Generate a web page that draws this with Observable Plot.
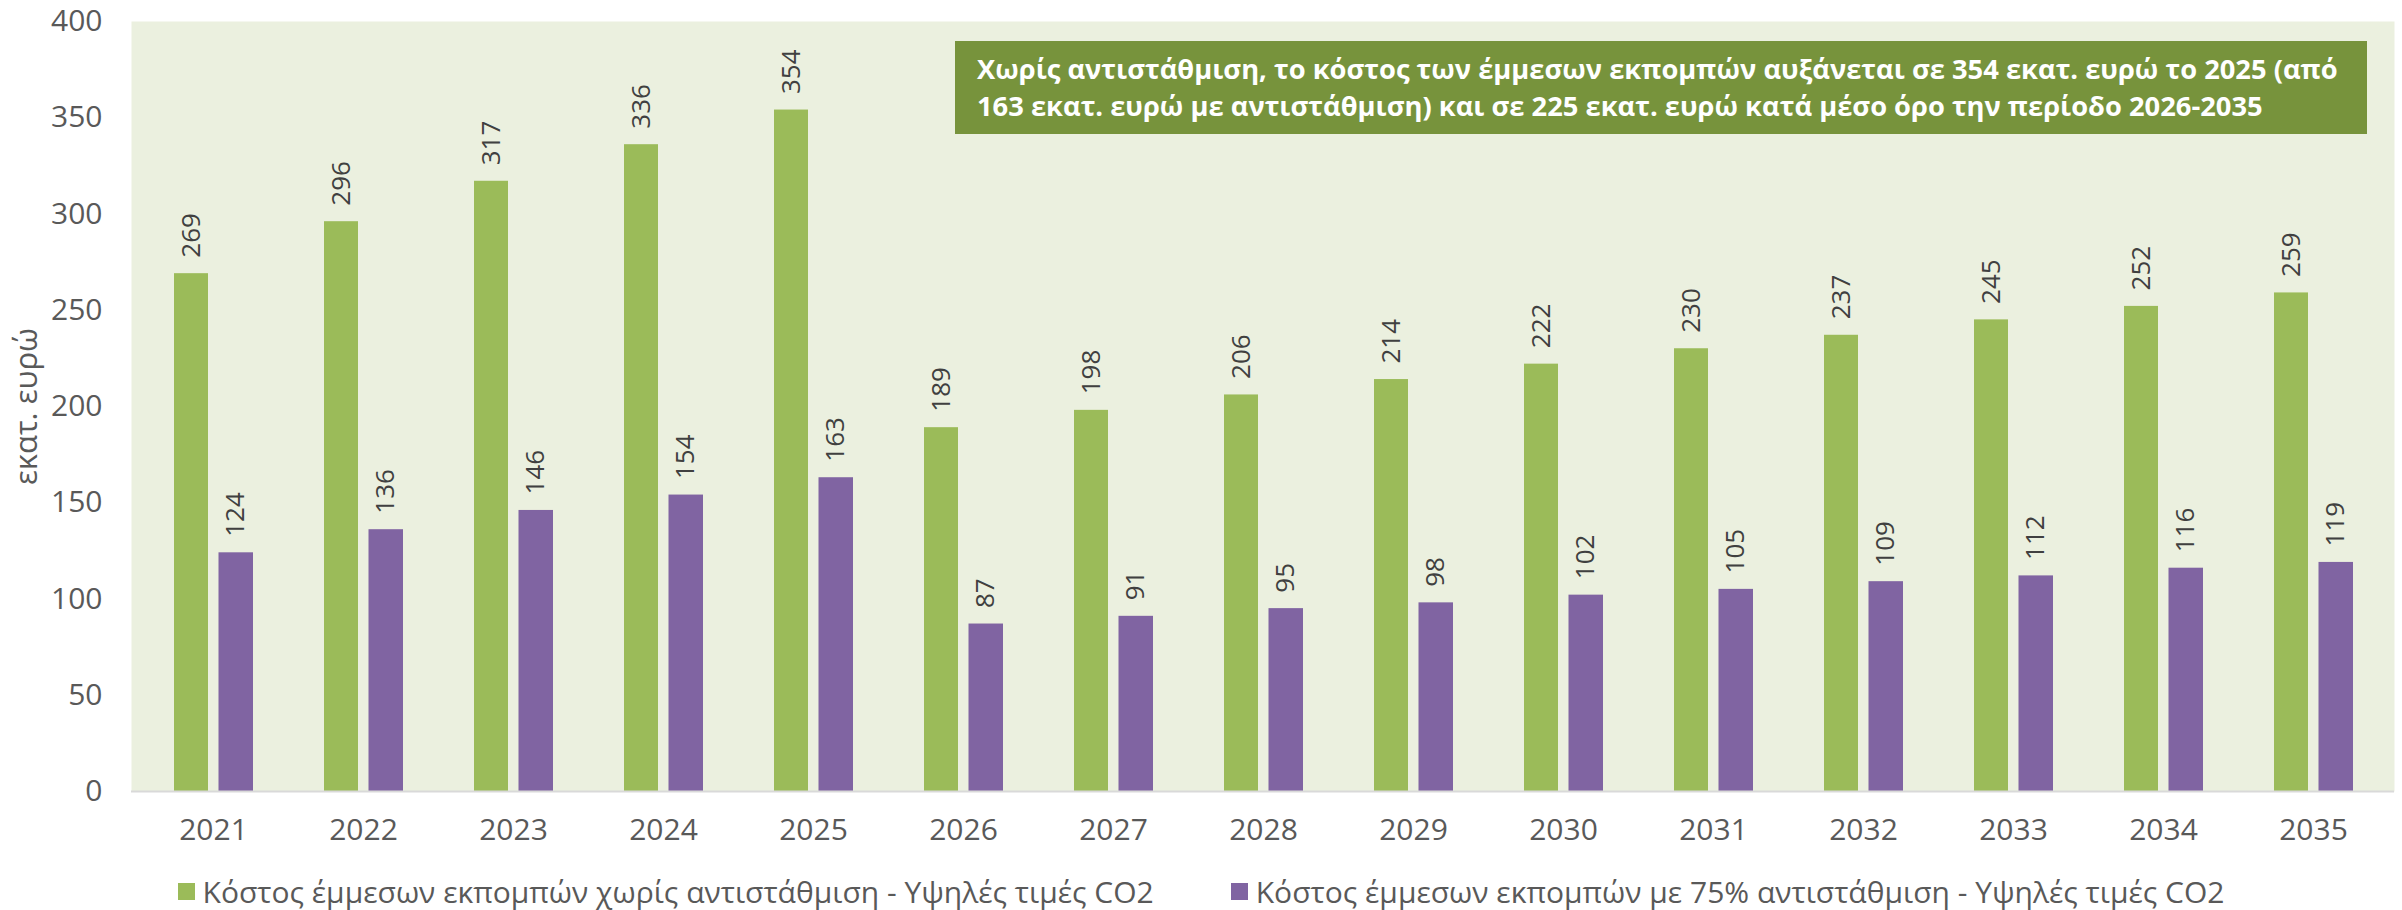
<!DOCTYPE html>
<html>
<head>
<meta charset="utf-8">
<script src="https://cdn.jsdelivr.net/npm/d3@7"></script>
<script src="https://cdn.jsdelivr.net/npm/@observablehq/plot@0.6"></script>
<style>
  html, body { margin: 0; padding: 0; background: #ffffff; }
  #wrap { position: relative; width: 2402px; height: 910px; font-family: "Open Sans", sans-serif; }
  #note {
    position: absolute; left: 955px; top: 41px; width: 1412px; height: 93px;
    box-sizing: border-box; padding: 9px 0 0 22px;
    background: #77933C; color: #ffffff; font-weight: bold; font-size: 27.3px; line-height: 37px;
    font-family: "Open Sans", sans-serif; white-space: nowrap;
  }
  #legend {
    display: flex; justify-content: center; align-items: center; gap: 77px;
    height: 58px; font-size: 30px; color: #595959; font-family: "Open Sans", sans-serif;
  }
  .item { display: flex; align-items: center; gap: 8px; }
  .sw { width: 17px; height: 17px; display: inline-block; }
</style>
</head>
<body>
<div id="wrap">
  <div id="chart"></div>
  <div id="note">Χωρίς αντιστάθμιση, το κόστος των έμμεσων εκπομπών αυξάνεται σε 354 εκατ. ευρώ το 2025 (από<br>163 εκατ. ευρώ με αντιστάθμιση) και σε 225 εκατ. ευρώ κατά μέσο όρο την περίοδο 2026-2035</div>
  <div id="legend"></div>
</div>
<script>
const years = ["2021","2022","2023","2024","2025","2026","2027","2028","2029","2030","2031","2032","2033","2034","2035"];
const noHedge = [269, 296, 317, 336, 354, 189, 198, 206, 214, 222, 230, 237, 245, 252, 259];
const hedge75 = [124, 136, 146, 154, 163, 87, 91, 95, 98, 102, 105, 109, 112, 116, 119];
const seriesNames = [
  "Κόστος έμμεσων εκπομπών χωρίς αντιστάθμιση - Υψηλές τιμές CO2",
  "Κόστος έμμεσων εκπομπών με 75% αντιστάθμιση - Υψηλές τιμές CO2"
];
const seriesColors = ["#9BBB59", "#8064A2"];
const yTicks = [0, 50, 100, 150, 200, 250, 300, 350, 400];
const yLabel = "εκατ. ευρώ";

const greenData = years.map((year, i) => ({year, value: noHedge[i]}));
const purpleData = years.map((year, i) => ({year, value: hedge75[i]}));

const chart = Plot.plot({
  width: 2402,
  height: 862,
  marginLeft: 131,
  marginRight: 8,
  marginTop: 21,
  marginBottom: 71,
  style: {fontFamily: "Open Sans, sans-serif", fontSize: "30px", color: "#595959", background: "transparent"},
  x: {domain: years, padding: 0, label: null, tickSize: 0, tickPadding: 27},
  y: {domain: [0, 400], ticks: yTicks, label: null, tickSize: 0, tickPadding: 29},
  marks: [
    Plot.frame({fill: "#EBF0DF", stroke: null}),
    Plot.barY(greenData, {x: "year", y: "value", fill: seriesColors[0], insetLeft: 36, insetRight: 80}),
    Plot.barY(purpleData, {x: "year", y: "value", fill: seriesColors[1], insetLeft: 80.5, insetRight: 35}),
    Plot.ruleY([0], {stroke: "#D9D9D9", strokeWidth: 2}),
    Plot.text(greenData, {x: "year", y: "value", text: d => String(d.value), rotate: -90, textAnchor: "start", dy: -16, dx: -22, fontSize: 26, fill: "#404040"}),
    Plot.text(purpleData, {x: "year", y: "value", text: d => String(d.value), rotate: -90, textAnchor: "start", dy: -16, dx: 22.5, fontSize: 26, fill: "#404040"}),
    Plot.text([yLabel], {frameAnchor: "left", textAnchor: "middle", text: d => d, rotate: -90, dx: -104, fontSize: 31, fill: "#595959"})
  ]
});
document.getElementById("chart").appendChild(chart);

const legend = document.getElementById("legend");
seriesNames.forEach((name, i) => {
  const item = document.createElement("div");
  item.className = "item";
  const sw = document.createElement("span");
  sw.className = "sw";
  sw.style.background = seriesColors[i];
  const t = document.createElement("span");
  t.textContent = name;
  item.appendChild(sw);
  item.appendChild(t);
  legend.appendChild(item);
});
</script>
</body>
</html>
